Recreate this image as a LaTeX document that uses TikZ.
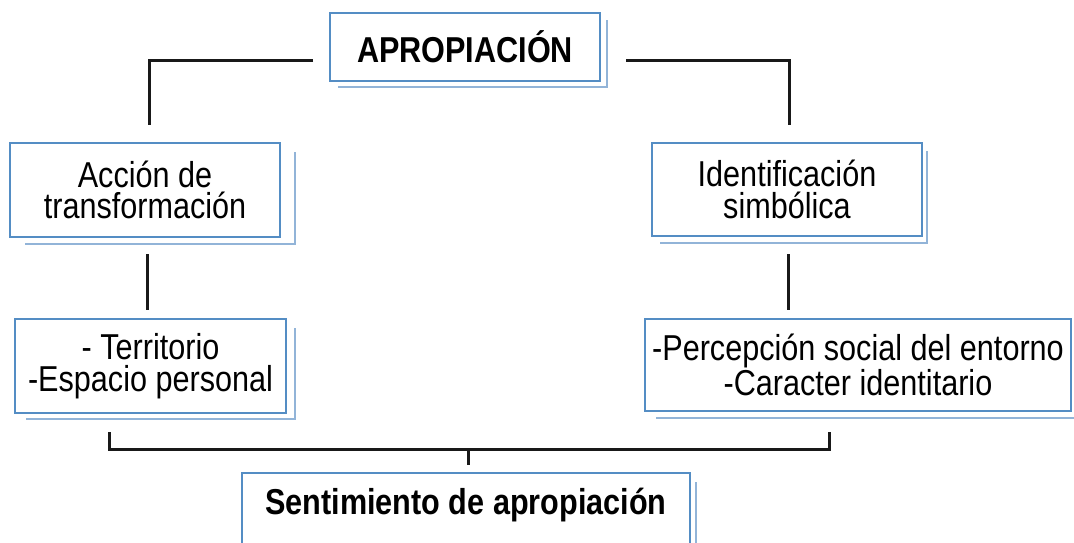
\documentclass[tikz,border=0pt]{standalone}
\usepackage{fontspec}
\setmainfont[FakeStretch=0.85]{Liberation Sans}
\definecolor{boxblue}{RGB}{84,141,196}
\definecolor{shadeblue}{RGB}{146,180,216}
\begin{document}
\begin{tikzpicture}[x=1pt,y=-1pt,
  box/.style={draw=boxblue,line width=2.6pt,fill=white,inner sep=0pt,align=center,
    font=\fontsize{36}{31.5}\selectfont},
  bbox/.style={box,font=\fontsize{36}{31.5}\selectfont\bfseries},
  shade/.style={draw=shadeblue,line width=2.2pt},
  conn/.style={draw=black!90,line width=3pt,line join=miter}]
\useasboundingbox (0,0) rectangle (1074,542);
% shadows first
\draw[shade] (607,20) -- (607,87) -- (338,87);
\draw[shade] (295,152) -- (295,244) -- (25,244);
\draw[shade] (927,151) -- (927,243) -- (660,243);
\draw[shade] (295,328) -- (295,419) -- (26,419);
\draw[shade] (1078,327) -- (1078,418) -- (656,418);
\draw[shade] (696,482) -- (696,550);
% boxes
\node[bbox,minimum width=270pt,minimum height=68pt] (apro) at (465,47) {APROPIACIÓN};
\node[box,minimum width=270pt,minimum height=94pt] (accion) at (145,190) {Acción de\\transformación};
\node[box,minimum width=270pt,minimum height=93pt] (ident) at (787,189.5) {Identificación\\simbólica};
\node[box,minimum width=271pt,minimum height=94pt] (terr) at (150.5,366) {- Territorio\\-Espacio personal};
\node[box,minimum width=426pt,minimum height=92pt] (perc) at (858,365) {-Percepción social del entorno\\-Caracter identitario};
\node[bbox,anchor=base,minimum width=448pt,text height=41pt,text depth=32pt] (sent) at (466,514) {Sentimiento de apropiación};
% connector coordinates
\coordinate (aL) at (313,60);
\coordinate (aLc) at (149,60);
\coordinate (aLd) at (149,125);
\coordinate (aR) at (626,60);
\coordinate (aRc) at (789,60);
\coordinate (aRd) at (789,125);
\coordinate (mLt) at (147,254);
\coordinate (mLb) at (147,310);
\coordinate (mRt) at (788,254);
\coordinate (mRb) at (788,310);
\coordinate (bL) at (109,432);
\coordinate (bLc) at (109,449);
\coordinate (bRc) at (829,449);
\coordinate (bR) at (829,432);
\coordinate (bM) at (468,449);
\coordinate (bMd) at (468,465);
\draw[conn] (aL) -- (aLc) -- (aLd);
\draw[conn] (aR) -- (aRc) -- (aRd);
\draw[conn] (mLt) -- (mLb);
\draw[conn] (mRt) -- (mRb);
\draw[conn] (bL) -- (bLc) -- (bRc) -- (bR);
\draw[conn] (bM) -- (bMd);
\end{tikzpicture}
\end{document}
